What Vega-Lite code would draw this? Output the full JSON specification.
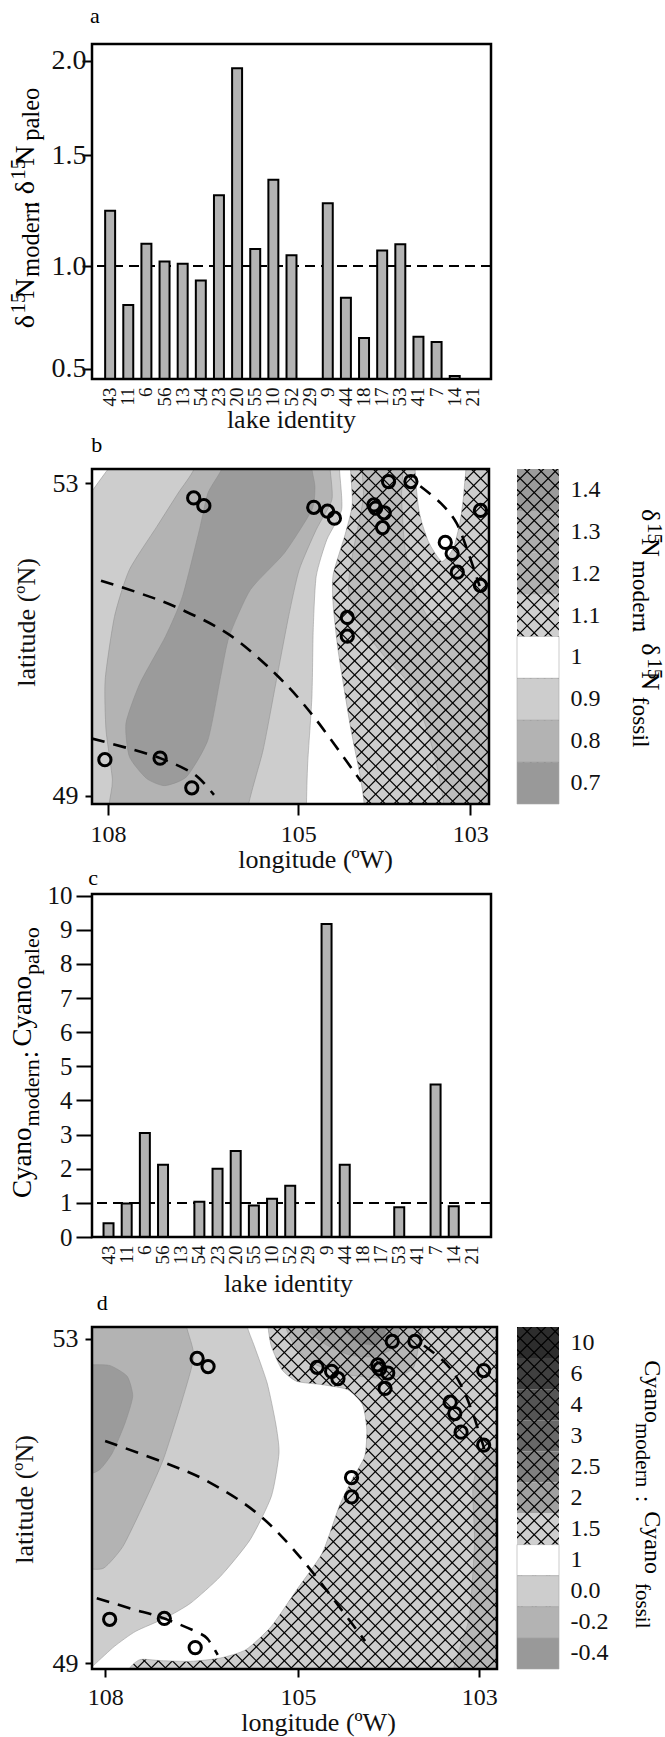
{"$schema":"https://vega.github.io/schema/vega-lite/v6.json","background":"white","padding":{"left":8,"top":5,"right":10,"bottom":6},"config":{"font":"Liberation Serif","view":{"stroke":null},"axis":{"domain":false,"grid":false,"labelFont":"Liberation Serif","titleFont":"Liberation Serif","labelColor":"#111","titleColor":"#111","tickColor":"#000","tickWidth":2,"titleFontWeight":"normal","titleFontSize":26,"titleBaseline":"alphabetic","labelOverlap":false,"labelBound":false}},
"resolve":{"scale":{"fill":"independent","size":"independent","x":"independent","y":"independent"}},
"datasets":{
"hatch":[{"p":-620,"q":212},{"p":-587,"q":245},{"p":-554,"q":278},{"p":-521,"q":311},{"p":-488,"q":344},{"p":-455,"q":377},{"p":-422,"q":410},{"p":-389,"q":443},{"p":-356,"q":476},{"p":-323,"q":509},{"p":-290,"q":542},{"p":-257,"q":575},{"p":-224,"q":608},{"p":-191,"q":641},{"p":-158,"q":674},{"p":-125,"q":707},{"p":-92,"q":740},{"p":-59,"q":773},{"p":-26,"q":806},{"p":7,"q":839},{"p":40,"q":872},{"p":73,"q":905},{"p":106,"q":938},{"p":139,"q":971},{"p":172,"q":1004},{"p":205,"q":1037},{"p":238,"q":1070},{"p":271,"q":1103},{"p":304,"q":1136},{"p":337,"q":1169},{"p":370,"q":1202},{"p":403,"q":1235},{"p":436,"q":1268},{"p":469,"q":1301},{"p":502,"q":1334},{"p":535,"q":1367},{"p":568,"q":1400},{"p":601,"q":1433},{"p":634,"q":1466},{"p":667,"q":1499},{"p":700,"q":1532},{"p":733,"q":1565},{"p":766,"q":1598},{"p":799,"q":1631},{"p":832,"q":1664},{"p":865,"q":1697},{"p":898,"q":1730},{"p":931,"q":1763},{"p":964,"q":1796},{"p":997,"q":1829},{"p":1030,"q":1862},{"p":1063,"q":1895},{"p":1096,"q":1928},{"p":1129,"q":1961},{"p":1162,"q":1994}],
"barsA":[{"lake":"43","v":1.25},{"lake":"11","v":0.81},{"lake":"6","v":1.1},{"lake":"56","v":1.02},{"lake":"13","v":1.01},{"lake":"54","v":0.93},{"lake":"23","v":1.32},{"lake":"20","v":1.96},{"lake":"55","v":1.077},{"lake":"10","v":1.39},{"lake":"52","v":1.048},{"lake":"29","v":null},{"lake":"9","v":1.283},{"lake":"44","v":0.846},{"lake":"18","v":0.65},{"lake":"17","v":1.07},{"lake":"53","v":1.098},{"lake":"41","v":0.656},{"lake":"7","v":0.63},{"lake":"14","v":0.47},{"lake":"21","v":null}],
"barsC":[{"lake":"43","v":0.4},{"lake":"11","v":0.98},{"lake":"6","v":3.05},{"lake":"56","v":2.12},{"lake":"13","v":null},{"lake":"54","v":1.03},{"lake":"23","v":2.0},{"lake":"20","v":2.52},{"lake":"55","v":0.92},{"lake":"10","v":1.12},{"lake":"52","v":1.5},{"lake":"29","v":null},{"lake":"9","v":9.17},{"lake":"44","v":2.12},{"lake":"18","v":null},{"lake":"17","v":null},{"lake":"53","v":0.87},{"lake":"41","v":null},{"lake":"7","v":4.47},{"lake":"14","v":0.9},{"lake":"21","v":null}],
"lakesB":[{"lon":106.65,"lat":52.81},{"lon":106.49,"lat":52.71},{"lon":104.82,"lat":52.69},{"lon":104.66,"lat":52.64},{"lon":104.58,"lat":52.55},{"lon":104.12,"lat":52.72},{"lon":104.1,"lat":52.68},{"lon":104.0,"lat":52.62},{"lon":104.02,"lat":52.43},{"lon":103.95,"lat":53.02},{"lon":103.69,"lat":53.02},{"lon":102.88,"lat":52.65},{"lon":103.29,"lat":52.24},{"lon":103.21,"lat":52.1},{"lon":103.15,"lat":51.86},{"lon":102.88,"lat":51.69},{"lon":104.43,"lat":51.28},{"lon":104.43,"lat":51.04},{"lon":107.18,"lat":49.48},{"lon":108.05,"lat":49.46},{"lon":106.68,"lat":49.1}],
"lakesD":[{"lon":106.57,"lat":52.76},{"lon":106.4,"lat":52.66},{"lon":104.79,"lat":52.65},{"lon":104.63,"lat":52.6},{"lon":104.56,"lat":52.51},{"lon":104.12,"lat":52.68},{"lon":104.1,"lat":52.63},{"lon":104.01,"lat":52.58},{"lon":104.04,"lat":52.39},{"lon":103.96,"lat":52.97},{"lon":103.71,"lat":52.97},{"lon":102.95,"lat":52.61},{"lon":103.32,"lat":52.22},{"lon":103.27,"lat":52.08},{"lon":103.2,"lat":51.85},{"lon":102.95,"lat":51.69},{"lon":104.41,"lat":51.29},{"lon":104.41,"lat":51.05},{"lon":107.08,"lat":49.55},{"lon":107.93,"lat":49.54},{"lon":106.6,"lat":49.19}],
"arcsB":[{"arc":"1","lon":108.11,"lat":51.75},{"arc":"1","lon":107.5,"lat":51.59},{"arc":"1","lon":106.89,"lat":51.4},{"arc":"1","lon":106.09,"lat":51.06},{"arc":"1","lon":105.35,"lat":50.55},{"arc":"1","lon":104.82,"lat":50.01},{"arc":"1","lon":104.27,"lat":49.18},{"arc":"2","lon":108.25,"lat":49.73},{"arc":"2","lon":107.7,"lat":49.61},{"arc":"2","lon":107.18,"lat":49.48},{"arc":"2","lon":106.76,"lat":49.33},{"arc":"2","lon":106.56,"lat":49.22},{"arc":"2","lon":106.33,"lat":49.01},{"arc":"3","lon":103.58,"lat":52.96},{"arc":"3","lon":103.34,"lat":52.74},{"arc":"3","lon":103.16,"lat":52.49},{"arc":"3","lon":103.02,"lat":52.1},{"arc":"3","lon":102.89,"lat":51.68}],
"arcsD":[{"arc":"1","lon":108.0,"lat":51.74},{"arc":"1","lon":107.1,"lat":51.48},{"arc":"1","lon":106.4,"lat":51.24},{"arc":"1","lon":105.61,"lat":50.83},{"arc":"1","lon":104.92,"lat":50.23},{"arc":"1","lon":104.26,"lat":49.27},{"arc":"2","lon":108.13,"lat":49.8},{"arc":"2","lon":107.59,"lat":49.67},{"arc":"2","lon":107.08,"lat":49.55},{"arc":"2","lon":106.54,"lat":49.37},{"arc":"2","lon":106.4,"lat":49.29},{"arc":"2","lon":106.25,"lat":49.1},{"arc":"3","lon":103.61,"lat":52.92},{"arc":"3","lon":103.37,"lat":52.7},{"arc":"3","lon":103.21,"lat":52.45},{"arc":"3","lon":103.07,"lat":52.08},{"arc":"3","lon":102.94,"lat":51.63}],
"underB":[{"poly":"u0","band":"base","gx":0,"gy":-500},{"poly":"u0","band":"base","gx":1500,"gy":-500},{"poly":"u0","band":"base","gx":1500,"gy":1700},{"poly":"u0","band":"base","gx":0,"gy":1700},
{"poly":"u1","band":"h2","gx":856,"gy":60},{"poly":"u1","band":"h2","gx":856,"gy":205},{"poly":"u1","band":"h2","gx":832,"gy":365},{"poly":"u1","band":"h2","gx":821,"gy":475},{"poly":"u1","band":"h2","gx":844,"gy":575},{"poly":"u1","band":"h2","gx":903,"gy":675},{"poly":"u1","band":"h2","gx":966,"gy":765},{"poly":"u1","band":"h2","gx":1005,"gy":895},{"poly":"u1","band":"h2","gx":1029,"gy":1005},{"poly":"u1","band":"h2","gx":1048,"gy":1145},{"poly":"u1","band":"h2","gx":1060,"gy":1400},{"poly":"u1","band":"h2","gx":1400,"gy":1400},{"poly":"u1","band":"h2","gx":1400,"gy":405},{"poly":"u1","band":"h2","gx":1225,"gy":420},{"poly":"u1","band":"h2","gx":1107,"gy":515},{"poly":"u1","band":"h2","gx":1060,"gy":575},{"poly":"u1","band":"h2","gx":1013,"gy":570},{"poly":"u1","band":"h2","gx":978,"gy":485},{"poly":"u1","band":"h2","gx":954,"gy":355},{"poly":"u1","band":"h2","gx":946,"gy":205},{"poly":"u1","band":"h2","gx":946,"gy":60}],
"overB":[{"poly":"o0","band":"white","gx":825,"gy":40},{"poly":"o0","band":"white","gx":826,"gy":120},{"poly":"o0","band":"white","gx":830,"gy":225},{"poly":"o0","band":"white","gx":813,"gy":315},{"poly":"o0","band":"white","gx":785,"gy":435},{"poly":"o0","band":"white","gx":785,"gy":525},{"poly":"o0","band":"white","gx":797,"gy":665},{"poly":"o0","band":"white","gx":825,"gy":885},{"poly":"o0","band":"white","gx":848,"gy":1035},{"poly":"o0","band":"white","gx":858,"gy":1125},{"poly":"o0","band":"white","gx":860,"gy":1300},{"poly":"o0","band":"white","gx":50,"gy":1300},{"poly":"o0","band":"white","gx":50,"gy":40},
{"poly":"o1","band":"white","gx":982,"gy":60},{"poly":"o1","band":"white","gx":986,"gy":235},{"poly":"o1","band":"white","gx":1009,"gy":335},{"poly":"o1","band":"white","gx":1041,"gy":395},{"poly":"o1","band":"white","gx":1068,"gy":355},{"poly":"o1","band":"white","gx":1084,"gy":275},{"poly":"o1","band":"white","gx":1093,"gy":185},{"poly":"o1","band":"white","gx":1093,"gy":60},
{"poly":"o2","band":"l1","gx":140,"gy":340},{"poly":"o2","band":"l1","gx":255,"gy":118},{"poly":"o2","band":"l1","gx":330,"gy":20},{"poly":"o2","band":"l1","gx":800,"gy":20},{"poly":"o2","band":"l1","gx":800,"gy":120},{"poly":"o2","band":"l1","gx":805,"gy":240},{"poly":"o2","band":"l1","gx":770,"gy":330},{"poly":"o2","band":"l1","gx":745,"gy":440},{"poly":"o2","band":"l1","gx":738,"gy":600},{"poly":"o2","band":"l1","gx":735,"gy":800},{"poly":"o2","band":"l1","gx":725,"gy":1000},{"poly":"o2","band":"l1","gx":722,"gy":1130},{"poly":"o2","band":"l1","gx":720,"gy":1300},{"poly":"o2","band":"l1","gx":50,"gy":1300},{"poly":"o2","band":"l1","gx":50,"gy":700},
{"poly":"o3","band":"l2","gx":457,"gy":40},{"poly":"o3","band":"l2","gx":457,"gy":118},{"poly":"o3","band":"l2","gx":420,"gy":190},{"poly":"o3","band":"l2","gx":370,"gy":290},{"poly":"o3","band":"l2","gx":305,"gy":420},{"poly":"o3","band":"l2","gx":270,"gy":560},{"poly":"o3","band":"l2","gx":248,"gy":750},{"poly":"o3","band":"l2","gx":250,"gy":900},{"poly":"o3","band":"l2","gx":265,"gy":1050},{"poly":"o3","band":"l2","gx":257,"gy":1130},{"poly":"o3","band":"l2","gx":257,"gy":1280},{"poly":"o3","band":"l2","gx":585,"gy":1280},{"poly":"o3","band":"l2","gx":585,"gy":1130},{"poly":"o3","band":"l2","gx":620,"gy":960},{"poly":"o3","band":"l2","gx":650,"gy":760},{"poly":"o3","band":"l2","gx":680,"gy":560},{"poly":"o3","band":"l2","gx":705,"gy":420},{"poly":"o3","band":"l2","gx":745,"gy":300},{"poly":"o3","band":"l2","gx":782,"gy":210},{"poly":"o3","band":"l2","gx":778,"gy":118},{"poly":"o3","band":"l2","gx":778,"gy":40},
{"poly":"o4","band":"l3","gx":525,"gy":40},{"poly":"o4","band":"l3","gx":522,"gy":118},{"poly":"o4","band":"l3","gx":490,"gy":190},{"poly":"o4","band":"l3","gx":470,"gy":300},{"poly":"o4","band":"l3","gx":430,"gy":500},{"poly":"o4","band":"l3","gx":390,"gy":620},{"poly":"o4","band":"l3","gx":330,"gy":760},{"poly":"o4","band":"l3","gx":297,"gy":880},{"poly":"o4","band":"l3","gx":305,"gy":980},{"poly":"o4","band":"l3","gx":345,"gy":1045},{"poly":"o4","band":"l3","gx":388,"gy":1067},{"poly":"o4","band":"l3","gx":440,"gy":1040},{"poly":"o4","band":"l3","gx":490,"gy":930},{"poly":"o4","band":"l3","gx":520,"gy":740},{"poly":"o4","band":"l3","gx":540,"gy":620},{"poly":"o4","band":"l3","gx":590,"gy":480},{"poly":"o4","band":"l3","gx":670,"gy":370},{"poly":"o4","band":"l3","gx":735,"gy":240},{"poly":"o4","band":"l3","gx":742,"gy":170},{"poly":"o4","band":"l3","gx":735,"gy":118},{"poly":"o4","band":"l3","gx":735,"gy":40}],
"underD":[{"poly":"u0","band":"base","gx":0,"gy":-500},{"poly":"u0","band":"base","gx":1500,"gy":-500},{"poly":"u0","band":"base","gx":1500,"gy":1700},{"poly":"u0","band":"base","gx":0,"gy":1700},
{"poly":"u1","band":"h2","gx":1180,"gy":470},{"poly":"u1","band":"h2","gx":1130,"gy":520},{"poly":"u1","band":"h2","gx":1115,"gy":600},{"poly":"u1","band":"h2","gx":1119,"gy":760},{"poly":"u1","band":"h2","gx":1107,"gy":980},{"poly":"u1","band":"h2","gx":1083,"gy":1080},{"poly":"u1","band":"h2","gx":1068,"gy":1150},{"poly":"u1","band":"h2","gx":1068,"gy":1300},{"poly":"u1","band":"h2","gx":1400,"gy":1300},{"poly":"u1","band":"h2","gx":1400,"gy":470},
{"poly":"u2","band":"h2","gx":675,"gy":50},{"poly":"u2","band":"h2","gx":675,"gy":116},{"poly":"u2","band":"h2","gx":699,"gy":176},{"poly":"u2","band":"h2","gx":746,"gy":226},{"poly":"u2","band":"h2","gx":824,"gy":256},{"poly":"u2","band":"h2","gx":919,"gy":266},{"poly":"u2","band":"h2","gx":974,"gy":236},{"poly":"u2","band":"h2","gx":989,"gy":156},{"poly":"u2","band":"h2","gx":997,"gy":116},{"poly":"u2","band":"h2","gx":997,"gy":50},
{"poly":"u3","band":"h3","gx":722,"gy":50},{"poly":"u3","band":"h3","gx":722,"gy":116},{"poly":"u3","band":"h3","gx":770,"gy":166},{"poly":"u3","band":"h3","gx":824,"gy":196},{"poly":"u3","band":"h3","gx":879,"gy":201},{"poly":"u3","band":"h3","gx":927,"gy":176},{"poly":"u3","band":"h3","gx":942,"gy":116},{"poly":"u3","band":"h3","gx":942,"gy":50},
{"poly":"u4","band":"h4","gx":809,"gy":50},{"poly":"u4","band":"h4","gx":809,"gy":116},{"poly":"u4","band":"h4","gx":840,"gy":156},{"poly":"u4","band":"h4","gx":879,"gy":166},{"poly":"u4","band":"h4","gx":903,"gy":146},{"poly":"u4","band":"h4","gx":911,"gy":116},{"poly":"u4","band":"h4","gx":911,"gy":50}],
"overD":[{"poly":"o0","band":"white","gx":630,"gy":40},{"poly":"o0","band":"white","gx":632,"gy":110},{"poly":"o0","band":"white","gx":640,"gy":170},{"poly":"o0","band":"white","gx":665,"gy":240},{"poly":"o0","band":"white","gx":700,"gy":275},{"poly":"o0","band":"white","gx":760,"gy":285},{"poly":"o0","band":"white","gx":820,"gy":300},{"poly":"o0","band":"white","gx":855,"gy":345},{"poly":"o0","band":"white","gx":865,"gy":420},{"poly":"o0","band":"white","gx":860,"gy":500},{"poly":"o0","band":"white","gx":830,"gy":570},{"poly":"o0","band":"white","gx":800,"gy":650},{"poly":"o0","band":"white","gx":760,"gy":790},{"poly":"o0","band":"white","gx":700,"gy":900},{"poly":"o0","band":"white","gx":640,"gy":1010},{"poly":"o0","band":"white","gx":580,"gy":1080},{"poly":"o0","band":"white","gx":520,"gy":1105},{"poly":"o0","band":"white","gx":450,"gy":1115},{"poly":"o0","band":"white","gx":380,"gy":1113},{"poly":"o0","band":"white","gx":330,"gy":1110},{"poly":"o0","band":"white","gx":300,"gy":1150},{"poly":"o0","band":"white","gx":290,"gy":1300},{"poly":"o0","band":"white","gx":50,"gy":1300},{"poly":"o0","band":"white","gx":50,"gy":40},
{"poly":"o1","band":"l1","gx":580,"gy":40},{"poly":"o1","band":"l1","gx":583,"gy":110},{"poly":"o1","band":"l1","gx":600,"gy":170},{"poly":"o1","band":"l1","gx":630,"gy":280},{"poly":"o1","band":"l1","gx":650,"gy":400},{"poly":"o1","band":"l1","gx":658,"gy":490},{"poly":"o1","band":"l1","gx":640,"gy":620},{"poly":"o1","band":"l1","gx":590,"gy":750},{"poly":"o1","band":"l1","gx":520,"gy":860},{"poly":"o1","band":"l1","gx":450,"gy":940},{"poly":"o1","band":"l1","gx":390,"gy":985},{"poly":"o1","band":"l1","gx":320,"gy":1025},{"poly":"o1","band":"l1","gx":270,"gy":1070},{"poly":"o1","band":"l1","gx":220,"gy":1128},{"poly":"o1","band":"l1","gx":130,"gy":1230},{"poly":"o1","band":"l1","gx":50,"gy":1230},{"poly":"o1","band":"l1","gx":50,"gy":40},
{"poly":"o2","band":"l2","gx":440,"gy":40},{"poly":"o2","band":"l2","gx":440,"gy":110},{"poly":"o2","band":"l2","gx":457,"gy":200},{"poly":"o2","band":"l2","gx":430,"gy":330},{"poly":"o2","band":"l2","gx":385,"gy":510},{"poly":"o2","band":"l2","gx":340,"gy":640},{"poly":"o2","band":"l2","gx":290,"gy":770},{"poly":"o2","band":"l2","gx":245,"gy":835},{"poly":"o2","band":"l2","gx":200,"gy":838},{"poly":"o2","band":"l2","gx":60,"gy":838},{"poly":"o2","band":"l2","gx":60,"gy":40},
{"poly":"o3","band":"l3","gx":60,"gy":225},{"poly":"o3","band":"l3","gx":215,"gy":225},{"poly":"o3","band":"l3","gx":260,"gy":228},{"poly":"o3","band":"l3","gx":300,"gy":260},{"poly":"o3","band":"l3","gx":313,"gy":320},{"poly":"o3","band":"l3","gx":295,"gy":400},{"poly":"o3","band":"l3","gx":265,"gy":490},{"poly":"o3","band":"l3","gx":235,"gy":540},{"poly":"o3","band":"l3","gx":200,"gy":555},{"poly":"o3","band":"l3","gx":60,"gy":560}]
},
"concat":[
{"width":399,"height":335,"resolve":{"scale":{"x":"independent","y":"independent"}},"layer":[
{"data":{"name":"barsA"},"layer":[
{"mark":{"type":"rule","stroke":"#000","strokeWidth":2.2,"strokeDash":[10,6]},"encoding":{"y":{"datum":1,"type":"quantitative","title":null,"scale":{"domain":[0.458,0.5,1,1.5,2,2.088],"range":[335,324.7,222,111.3,16.7,0],"nice":false,"zero":false}}}},
{"mark":{"type":"bar","fill":"#b3b3b3","stroke":"#000","strokeWidth":2},"encoding":{"x":{"field":"lake","type":"nominal","sort":null,"title":"lake identity","scale":{"type":"band","domain":["43","11","6","56","13","54","23","20","55","10","52","29","9","44","18","17","53","41","7","14","21"],"paddingInner":0.45,"paddingOuter":0.725},"axis":{"orient":"bottom","labelAngle":-90,"labelFontSize":19,"ticks":false,"labelPadding":8,"labelBaseline":"middle","labelAlign":"right","titleX":199,"titleY":48}},"y":{"field":"v","type":"quantitative","title":null,"scale":{"domain":[0.458,0.5,1,1.5,2,2.088],"range":[335,324.7,222,111.3,16.7,0],"nice":false,"zero":false},"axis":{"orient":"left","values":[0.5,1,1.5,2],"format":".1f","labelFontSize":28,"tickSize":10,"labelPadding":-4}},"y2":{"datum":0.458}}}
]},
{"layer":[
{"data":{"values":[{"t":"a","gx":270,"gy":68}]},"mark":{"type":"text","align":"left","baseline":"alphabetic","fontSize":22},"encoding":{"x":{"field":"gx","type":"quantitative","axis":null,"scale":{"domain":[276,1473],"nice":false,"zero":false}},"y":{"field":"gy","type":"quantitative","axis":null,"scale":{"domain":[1134,130],"nice":false,"zero":false}},"text":{"field":"t"}}},
{"data":{"values":[{"t":"δ","gx":103,"gy":982,"k":"big"},{"t":"15","gx":76,"gy":938,"k":"sup"},{"t":"N","gx":103,"gy":893,"k":"big"},{"t":"modern","gx":118,"gy":828,"k":"sub"},{"t":":","gx":115,"gy":622,"k":"big"},{"t":"δ","gx":103,"gy":580,"k":"big"},{"t":"15","gx":76,"gy":537,"k":"sup"},{"t":"N","gx":103,"gy":495,"k":"big"},{"t":"paleo","gx":118,"gy":420,"k":"sub"}]},"mark":{"type":"text","align":"left","baseline":"alphabetic","angle":270},"encoding":{"x":{"field":"gx","type":"quantitative"},"y":{"field":"gy","type":"quantitative"},"text":{"field":"t"},"size":{"field":"k","type":"nominal","legend":null,"scale":{"domain":["big","sub","sup"],"range":[28,21,17]}}}},
{"data":{"values":[{"gx":276,"gx2":1473,"gy":1134,"gy2":130}]},"mark":{"type":"rect","fill":"transparent","stroke":"#000","strokeWidth":2.5},"encoding":{"x":{"field":"gx","type":"quantitative"},"x2":{"field":"gx2"},"y":{"field":"gy","type":"quantitative"},"y2":{"field":"gy2"}}}
]}
]},
{"width":40,"height":10,"data":{"values":[{"u":1}]},"mark":{"type":"rect","opacity":0},"encoding":{}},
{"width":397,"height":335,"resolve":{"scale":{"x":"independent","y":"independent"}},"layer":[
{"layer":[
{"data":{"name":"underB"},"mark":{"type":"line","interpolate":"cardinal-closed","tension":0.4,"clip":true,"stroke":"#8a8a8a","strokeWidth":0.5},"encoding":{"x":{"field":"gx","type":"quantitative","axis":null,"scale":{"domain":[217,1152],"nice":false,"zero":false}},"y":{"field":"gy","type":"quantitative","axis":null,"scale":{"domain":[1122,118],"nice":false,"zero":false}},"fill":{"field":"band","type":"nominal","legend":null,"scale":{"domain":["base","h2","h3","h4","white","l1","l2","l3"],"range":["#cdcdcd","#bcbcbc","#a0a0a0","#858585","#ffffff","#cdcdcd","#b3b3b3","#9b9b9b"]}},"detail":{"field":"poly"},"order":{"value":null}}},
{"data":{"name":"hatch"},"mark":{"type":"rule","clip":true,"stroke":"#000","strokeWidth":1.2},"encoding":{"x":{"field":"p","type":"quantitative"},"x2":{"field":"q"},"y":{"datum":100},"y2":{"datum":1160}}},
{"data":{"name":"hatch"},"mark":{"type":"rule","clip":true,"stroke":"#000","strokeWidth":1.2},"encoding":{"x":{"field":"q","type":"quantitative"},"x2":{"field":"p"},"y":{"datum":100},"y2":{"datum":1160}}},
{"data":{"name":"overB"},"mark":{"type":"line","interpolate":"cardinal-closed","tension":0.4,"clip":true,"stroke":"#8a8a8a","strokeWidth":0.5},"encoding":{"x":{"field":"gx","type":"quantitative"},"y":{"field":"gy","type":"quantitative"},"fill":{"field":"band","type":"nominal","legend":null},"detail":{"field":"poly"},"order":{"value":null}}},
{"data":{"values":[{"gx":217,"gx2":1152,"gy":1122,"gy2":118}]},"mark":{"type":"rect","fill":"transparent","stroke":"#000","strokeWidth":2.5},"encoding":{"x":{"field":"gx","type":"quantitative"},"x2":{"field":"gx2"},"y":{"field":"gy","type":"quantitative"},"y2":{"field":"gy2"}}},
{"data":{"values":[{"t":"b","gx":215,"gy":68}]},"mark":{"type":"text","align":"left","baseline":"alphabetic","fontSize":22},"encoding":{"x":{"field":"gx","type":"quantitative"},"y":{"field":"gy","type":"quantitative"},"text":{"field":"t"}}},
{"data":{"values":[{"t":"δ","gx":1512,"gy":238,"k":"big"},{"t":"15","gx":1527,"gy":280,"k":"sup"},{"t":"N","gx":1512,"gy":325,"k":"big"},{"t":"modern","gx":1492,"gy":392,"k":"sub"},{"t":":","gx":1492,"gy":586,"k":"big"},{"t":"δ","gx":1512,"gy":640,"k":"big"},{"t":"15","gx":1527,"gy":685,"k":"sup"},{"t":"N","gx":1512,"gy":725,"k":"big"},{"t":"fossil","gx":1492,"gy":800,"k":"sub"}]},"mark":{"type":"text","align":"left","baseline":"alphabetic","angle":90},"encoding":{"x":{"field":"gx","type":"quantitative"},"y":{"field":"gy","type":"quantitative"},"text":{"field":"t"},"size":{"field":"k","type":"nominal","legend":null,"scale":{"domain":["big","sub","sup"],"range":[26,21,17]}}}}
]},
{"layer":[
{"data":{"name":"lakesB"},"mark":{"type":"point","shape":"circle","filled":false,"stroke":"#000","strokeWidth":3,"size":150,"opacity":1},"encoding":{"x":{"field":"lon","type":"quantitative","title":"longitude (ºW)","scale":{"domain":[108.25,108,105,103,102.78],"range":[0,16.1,206.3,378.2,397],"nice":false,"zero":false},"axis":{"orient":"bottom","values":[108,105,103],"format":"d","labelFontSize":24,"tickSize":11,"labelPadding":7,"titleX":223,"titleY":63}},"y":{"field":"lat","type":"quantitative","title":"latitude (ºN)","scale":{"domain":[48.893,53.18],"nice":false,"zero":false},"axis":{"orient":"left","values":[53,49],"format":"d","labelFontSize":26,"tickSize":7,"labelPadding":7,"titleX":-58,"titleY":153}}}},
{"data":{"name":"arcsB"},"mark":{"type":"line","interpolate":"cardinal","clip":true,"stroke":"#000","strokeWidth":2.6,"strokeDash":[13,9]},"encoding":{"x":{"field":"lon","type":"quantitative"},"y":{"field":"lat","type":"quantitative"},"detail":{"field":"arc"},"order":{"value":null}}}
]}
]},
{"width":42,"height":335,"resolve":{"scale":{"x":"independent","y":"independent"}},"data":{"values":[{"lab":"1.4","tone":"a","hatched":true},{"lab":"1.3","tone":"b","hatched":true},{"lab":"1.2","tone":"c","hatched":true},{"lab":"1.1","tone":"d","hatched":true},{"lab":"1","tone":"e","hatched":false},{"lab":"0.9","tone":"f","hatched":false},{"lab":"0.8","tone":"g","hatched":false},{"lab":"0.7","tone":"h","hatched":false}]},"layer":[
{"mark":{"type":"rect"},"encoding":{"y":{"field":"lab","type":"ordinal","title":null,"sort":null,"scale":{"domain":["1.4","1.3","1.2","1.1","1","0.9","0.8","0.7"]},"axis":{"orient":"right","ticks":false,"labelFontSize":24,"labelPadding":11}},"fill":{"field":"tone","type":"nominal","legend":null,"scale":{"domain":["a","b","c","d","e","f","g","h"],"range":["#9b9b9b","#adadad","#b0b0b0","#cfcfcf","#ffffff","#cdcdcd","#b3b3b3","#999999"]}}}},
{"data":{"name":"hatch"},"layer":[
{"mark":{"type":"rule","clip":true,"stroke":"#000","strokeWidth":1.2},"encoding":{"x":{"field":"p","type":"quantitative","axis":null,"scale":{"domain":[300,399],"nice":false,"zero":false}},"x2":{"field":"q"},"y":{"datum":100,"type":"quantitative","axis":null,"scale":{"domain":[1122,118],"nice":false,"zero":false}},"y2":{"datum":1160}}},
{"mark":{"type":"rule","clip":true,"stroke":"#000","strokeWidth":1.2},"encoding":{"x":{"field":"q","type":"quantitative"},"x2":{"field":"p"},"y":{"datum":100},"y2":{"datum":1160}}}
]},
{"transform":[{"filter":"!datum.hatched"}],"mark":{"type":"rect","stroke":"#a8a8a8","strokeWidth":0.6},"encoding":{"y":{"field":"lab","type":"ordinal","title":null,"sort":null,"scale":{"domain":["1.4","1.3","1.2","1.1","1","0.9","0.8","0.7"]},"axis":null},"fill":{"field":"tone","type":"nominal","legend":null}}}
]},
{"width":399,"height":343,"resolve":{"scale":{"x":"independent","y":"independent"}},"layer":[
{"data":{"name":"barsC"},"layer":[
{"mark":{"type":"rule","stroke":"#000","strokeWidth":1.6,"strokeDash":[10,6]},"encoding":{"y":{"datum":1,"type":"quantitative","title":null,"scale":{"domain":[0,10.05],"nice":false,"zero":false}}}},
{"mark":{"type":"bar","fill":"#b3b3b3","stroke":"#000","strokeWidth":2},"encoding":{"x":{"field":"lake","type":"nominal","sort":null,"title":"lake identity","scale":{"type":"band","domain":["43","11","6","56","13","54","23","20","55","10","52","29","9","44","18","17","53","41","7","14","21"],"paddingInner":0.45,"paddingOuter":0.705,"align":0.45},"axis":{"orient":"bottom","labelAngle":-90,"labelFontSize":19,"ticks":false,"labelPadding":8,"labelBaseline":"middle","labelAlign":"right","titleX":196,"titleY":54}},"y":{"field":"v","type":"quantitative","title":null,"scale":{"domain":[0,10.05],"nice":false,"zero":false},"axis":{"orient":"left","values":[0,1,2,3,4,5,6,7,8,9,10],"tickCount":11,"labelOverlap":false,"labelSeparation":0,"format":"d","labelFontSize":25,"tickSize":16,"labelPadding":4}},"y2":{"datum":0}}}
]},
{"layer":[
{"data":{"values":[{"t":"c","gx":265,"gy":45}]},"mark":{"type":"text","align":"left","baseline":"alphabetic","fontSize":22},"encoding":{"x":{"field":"gx","type":"quantitative","axis":null,"scale":{"domain":[276,1473],"nice":false,"zero":false}},"y":{"field":"gy","type":"quantitative","axis":null,"scale":{"domain":[1102,72],"nice":false,"zero":false}},"text":{"field":"t"}}},
{"data":{"values":[{"t":"Cyano","gx":92,"gy":985,"k":"big"},{"t":"modern","gx":118,"gy":770,"k":"sub"},{"t":":","gx":115,"gy":565,"k":"big"},{"t":"Cyano","gx":92,"gy":530,"k":"big"},{"t":"paleo","gx":118,"gy":315,"k":"sub"}]},"mark":{"type":"text","align":"left","baseline":"alphabetic","angle":270},"encoding":{"x":{"field":"gx","type":"quantitative"},"y":{"field":"gy","type":"quantitative"},"text":{"field":"t"},"size":{"field":"k","type":"nominal","legend":null,"scale":{"domain":["big","sub"],"range":[27,22]}}}},
{"data":{"values":[{"gx":276,"gx2":1473,"gy":1102,"gy2":72}]},"mark":{"type":"rect","fill":"transparent","stroke":"#000","strokeWidth":2.5},"encoding":{"x":{"field":"gx","type":"quantitative"},"x2":{"field":"gx2"},"y":{"field":"gy","type":"quantitative"},"y2":{"field":"gy2"}}}
]}
]},
{"width":40,"height":10,"data":{"values":[{"u":1}]},"mark":{"type":"rect","opacity":0},"encoding":{}},
{"width":405,"height":342,"resolve":{"scale":{"x":"independent","y":"independent"}},"layer":[
{"layer":[
{"data":{"name":"underD"},"mark":{"type":"line","interpolate":"cardinal-closed","tension":0.4,"clip":true,"stroke":"#8a8a8a","strokeWidth":0.5},"encoding":{"x":{"field":"gx","type":"quantitative","axis":null,"scale":{"domain":[217,1172],"nice":false,"zero":false}},"y":{"field":"gy","type":"quantitative","axis":null,"scale":{"domain":[1138,112],"nice":false,"zero":false}},"fill":{"field":"band","type":"nominal","legend":null,"scale":{"domain":["base","h2","h3","h4","white","l1","l2","l3"],"range":["#cdcdcd","#b6b6b6","#a0a0a0","#858585","#ffffff","#cdcdcd","#b3b3b3","#9b9b9b"]}},"detail":{"field":"poly"},"order":{"value":null}}},
{"data":{"name":"hatch"},"mark":{"type":"rule","clip":true,"stroke":"#000","strokeWidth":1.2},"encoding":{"x":{"field":"p","type":"quantitative"},"x2":{"field":"q"},"y":{"datum":100},"y2":{"datum":1160}}},
{"data":{"name":"hatch"},"mark":{"type":"rule","clip":true,"stroke":"#000","strokeWidth":1.2},"encoding":{"x":{"field":"q","type":"quantitative"},"x2":{"field":"p"},"y":{"datum":100},"y2":{"datum":1160}}},
{"data":{"name":"overD"},"mark":{"type":"line","interpolate":"cardinal-closed","tension":0.4,"clip":true,"stroke":"#8a8a8a","strokeWidth":0.5},"encoding":{"x":{"field":"gx","type":"quantitative"},"y":{"field":"gy","type":"quantitative"},"fill":{"field":"band","type":"nominal","legend":null},"detail":{"field":"poly"},"order":{"value":null}}},
{"data":{"values":[{"gx":217,"gx2":1172,"gy":1138,"gy2":112}]},"mark":{"type":"rect","fill":"transparent","stroke":"#000","strokeWidth":2.5},"encoding":{"x":{"field":"gx","type":"quantitative"},"x2":{"field":"gx2"},"y":{"field":"gy","type":"quantitative"},"y2":{"field":"gy2"}}},
{"data":{"values":[{"t":"d","gx":228,"gy":62}]},"mark":{"type":"text","align":"left","baseline":"alphabetic","fontSize":22},"encoding":{"x":{"field":"gx","type":"quantitative"},"y":{"field":"gy","type":"quantitative"},"text":{"field":"t"}}},
{"data":{"values":[{"t":"Cyano","gx":1520,"gy":212,"k":"big"},{"t":"modern","gx":1500,"gy":400,"k":"sub"},{"t":":","gx":1500,"gy":618,"k":"big"},{"t":"Cyano","gx":1520,"gy":665,"k":"big"},{"t":"fossil","gx":1500,"gy":880,"k":"sub"}]},"mark":{"type":"text","align":"left","baseline":"alphabetic","angle":90},"encoding":{"x":{"field":"gx","type":"quantitative"},"y":{"field":"gy","type":"quantitative"},"text":{"field":"t"},"size":{"field":"k","type":"nominal","legend":null,"scale":{"domain":["big","sub"],"range":[24,21]}}}}
]},
{"layer":[
{"data":{"name":"lakesD"},"mark":{"type":"point","shape":"circle","filled":false,"stroke":"#000","strokeWidth":3,"size":150,"opacity":1},"encoding":{"x":{"field":"lon","type":"quantitative","title":"longitude (ºW)","scale":{"domain":[108.204,108,105,103,102.8],"range":[0,13.15,206.1,387.2,405],"nice":false,"zero":false},"axis":{"orient":"bottom","values":[108,105,103],"format":"d","labelFontSize":24,"tickSize":8,"labelPadding":8,"titleX":226,"titleY":61}},"y":{"field":"lat","type":"quantitative","title":"latitude (ºN)","scale":{"domain":[48.926,53.148],"nice":false,"zero":false},"axis":{"orient":"left","values":[53,49],"format":"d","labelFontSize":26,"tickSize":7,"labelPadding":7,"titleX":-60,"titleY":172}}}},
{"data":{"name":"arcsD"},"mark":{"type":"line","interpolate":"cardinal","clip":true,"stroke":"#000","strokeWidth":2.6,"strokeDash":[13,9]},"encoding":{"x":{"field":"lon","type":"quantitative"},"y":{"field":"lat","type":"quantitative"},"detail":{"field":"arc"},"order":{"value":null}}}
]}
]},
{"width":42,"height":342,"resolve":{"scale":{"x":"independent","y":"independent"}},"data":{"values":[{"lab":"10","tone":"a","hatched":true},{"lab":"6","tone":"b","hatched":true},{"lab":"4","tone":"c","hatched":true},{"lab":"3","tone":"d","hatched":true},{"lab":"2.5","tone":"e","hatched":true},{"lab":"2","tone":"f","hatched":true},{"lab":"1.5","tone":"g","hatched":true},{"lab":"1","tone":"h","hatched":false},{"lab":"0.0","tone":"i","hatched":false},{"lab":"-0.2","tone":"j","hatched":false},{"lab":"-0.4","tone":"k","hatched":false}]},"layer":[
{"mark":{"type":"rect"},"encoding":{"y":{"field":"lab","type":"ordinal","title":null,"sort":null,"scale":{"domain":["10","6","4","3","2.5","2","1.5","1","0.0","-0.2","-0.4"]},"axis":{"orient":"right","ticks":false,"labelFontSize":24,"labelPadding":11}},"fill":{"field":"tone","type":"nominal","legend":null,"scale":{"domain":["a","b","c","d","e","f","g","h","i","j","k"],"range":["#2d2d2d","#404040","#555555","#686868","#808080","#a0a0a0","#cfcfcf","#ffffff","#cdcdcd","#b3b3b3","#999999"]}}}},
{"data":{"name":"hatch"},"layer":[
{"mark":{"type":"rule","clip":true,"stroke":"#000","strokeWidth":1.2},"encoding":{"x":{"field":"p","type":"quantitative","axis":null,"scale":{"domain":[300,399],"nice":false,"zero":false}},"x2":{"field":"q"},"y":{"datum":100,"type":"quantitative","axis":null,"scale":{"domain":[1138,112],"nice":false,"zero":false}},"y2":{"datum":1160}}},
{"mark":{"type":"rule","clip":true,"stroke":"#000","strokeWidth":1.2},"encoding":{"x":{"field":"q","type":"quantitative"},"x2":{"field":"p"},"y":{"datum":100},"y2":{"datum":1160}}}
]},
{"transform":[{"filter":"!datum.hatched"}],"mark":{"type":"rect","stroke":"#a8a8a8","strokeWidth":0.6},"encoding":{"y":{"field":"lab","type":"ordinal","title":null,"sort":null,"scale":{"domain":["10","6","4","3","2.5","2","1.5","1","0.0","-0.2","-0.4"]},"axis":null},"fill":{"field":"tone","type":"nominal","legend":null}}}
]}
],
"columns":2,"bounds":"flush","align":"each","spacing":{"row":90,"column":20}}
